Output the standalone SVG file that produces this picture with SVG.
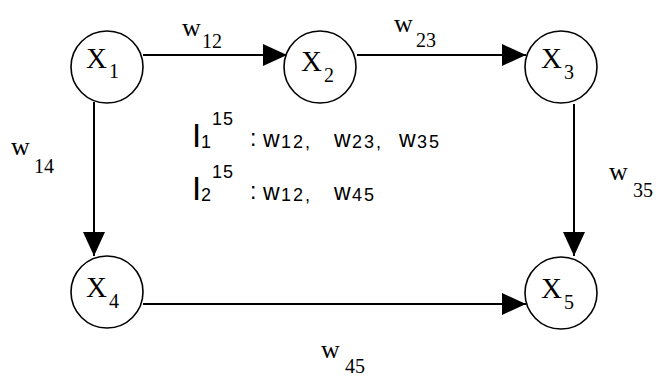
<svg xmlns="http://www.w3.org/2000/svg" width="663" height="376" viewBox="0 0 663 376">
  <defs>
    <marker id="arrow" markerUnits="userSpaceOnUse" markerWidth="26" markerHeight="24" refX="24" refY="12" orient="auto">
      <path d="M0,1 L24,12 L0,23 Z" fill="#000"/>
    </marker>
    <style>
      .node circle { fill: #fff; stroke: #000; stroke-width: 1.6; }
      .edge { stroke: #000; stroke-width: 2; fill: none; marker-end: url(#arrow); }
      .lbl { font-family: "Liberation Serif", "Times New Roman", serif; fill: #000; }
      .w { font-size: 26px; }
      .sub { font-size: 20px; }
      .nx { font-size: 29px; }
      .nsub { font-size: 20px; }
      .path { font-family: "DejaVu Sans", Verdana, sans-serif; fill: #000; }
      .pbig { font-family: "Liberation Sans", Arial, sans-serif; font-size: 33px; }
      .pw { font-size: 23px; }
      .pd { font-size: 18px; letter-spacing: 2px; }
      .sup { font-size: 18px; letter-spacing: 1px; }
    </style>
  </defs>
  <rect width="663" height="376" fill="#fff"/>

  <!-- connectors -->
  <g id="edges">
    <line class="edge" x1="143" y1="55" x2="287" y2="55"/>
    <line class="edge" x1="357" y1="55" x2="526" y2="55"/>
    <line class="edge" x1="94" y1="102" x2="94" y2="256"/>
    <line class="edge" x1="574" y1="104" x2="574" y2="256"/>
    <line class="edge" x1="143" y1="304" x2="526" y2="304"/>
  </g>

  <!-- edge weights -->
  <g id="edge-labels" class="lbl">
    <text x="182" y="36" class="w">w<tspan x="202" y="48" class="sub">12</tspan></text>
    <text x="394" y="32" class="w">w<tspan x="416" y="47" class="sub">23</tspan></text>
    <text x="11" y="155" class="w">w<tspan x="34" y="173" class="sub">14</tspan></text>
    <text x="609" y="180" class="w">w<tspan x="633" y="197" class="sub">35</tspan></text>
    <text x="321" y="358" class="w">w<tspan x="345" y="373" class="sub">45</tspan></text>
  </g>

  <!-- nodes -->
  <g id="X1" class="node">
    <circle cx="107" cy="67" r="36"/>
    <text class="lbl nx" x="86" y="68">X<tspan class="nsub" x="109" y="78">1</tspan></text>
  </g>
  <g id="X2" class="node">
    <circle cx="320" cy="67" r="36"/>
    <text class="lbl nx" x="301" y="71">X<tspan class="nsub" x="324" y="82">2</tspan></text>
  </g>
  <g id="X3" class="node">
    <circle cx="561" cy="67" r="36"/>
    <text class="lbl nx" x="541" y="68">X<tspan class="nsub" x="564" y="79">3</tspan></text>
  </g>
  <g id="X4" class="node">
    <circle cx="107" cy="292" r="36"/>
    <text class="lbl nx" x="86" y="297">X<tspan class="nsub" x="109" y="308">4</tspan></text>
  </g>
  <g id="X5" class="node">
    <circle cx="561" cy="293" r="36"/>
    <text class="lbl nx" x="541" y="298">X<tspan class="nsub" x="564" y="309">5</tspan></text>
  </g>

  <!-- path listing -->
  <g id="paths" class="path">
    <text class="pbig" x="192" y="147">I<tspan class="pd" x="201" y="148">1</tspan><tspan class="sup" x="212" y="125">15</tspan><tspan class="pw" x="250" y="146">:</tspan><tspan class="pw" x="263" y="147">w</tspan><tspan class="pd" x="281" y="148">12,</tspan><tspan class="pw" x="334" y="147">w</tspan><tspan class="pd" x="352" y="148">23,</tspan><tspan class="pw" x="399" y="147">w</tspan><tspan class="pd" x="417" y="148">35</tspan></text>
    <text class="pbig" x="192" y="200">I<tspan class="pd" x="201" y="201">2</tspan><tspan class="sup" x="212" y="178">15</tspan><tspan class="pw" x="250" y="199">:</tspan><tspan class="pw" x="263" y="200">w</tspan><tspan class="pd" x="281" y="201">12,</tspan><tspan class="pw" x="334" y="200">w</tspan><tspan class="pd" x="352" y="201">45</tspan></text>
  </g>
</svg>
